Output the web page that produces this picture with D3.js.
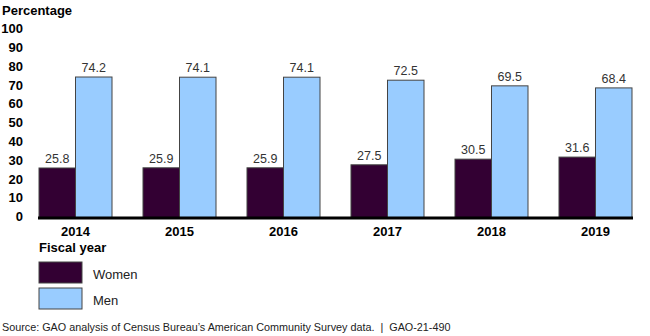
<!DOCTYPE html>
<html>
<head>
<meta charset="utf-8">
<script src="https://cdn.jsdelivr.net/npm/d3@7"></script>
<style>
  body { margin: 0; background: #fff; }
  svg { font-family: Arial, "Liberation Sans", sans-serif; display: block; }
</style>
</head>
<body>
<div id="chart"></div>
<script>
const years = ['2014', '2015', '2016', '2017', '2018', '2019'];
const women = [25.8, 25.9, 25.9, 27.5, 30.5, 31.6];
const men = [74.2, 74.1, 74.1, 72.5, 69.5, 68.4];
const series = ['Women', 'Men'];
const yTicks = [0, 10, 20, 30, 40, 50, 60, 70, 80, 90, 100];

const width = 650, height = 336;
const colors = { Women: '#330033', Men: '#99ccff' };

const svg = d3.select('#chart').append('svg')
    .attr('width', width)
    .attr('height', height);

const x = d3.scaleBand()
    .domain(years)
    .range([39, 632])
    .paddingInner(0.298)
    .paddingOuter(0);

const xSub = d3.scaleBand()
    .domain(series)
    .range([0, x.bandwidth()]);

const y = d3.scaleLinear()
    .domain([0, 100])
    .range([216.5, 28.5]);

// y axis labels (no line)
svg.append('g')
    .selectAll('text')
    .data(yTicks)
    .enter().append('text')
    .attr('x', 23)
    .attr('y', d => y(d))
    .attr('dy', '0.36em')
    .attr('text-anchor', 'end')
    .style('font-size', '13px')
    .style('font-weight', 'bold')
    .text(d => d);

svg.append('text')
    .attr('x', 2)
    .attr('y', 15)
    .style('font-size', '13px')
    .style('font-weight', 'bold')
    .text('Percentage');

const rows = years.map((yr, i) => ({ year: yr, Women: women[i], Men: men[i] }));

const groups = svg.selectAll('.grp')
    .data(rows)
    .enter().append('g')
    .attr('class', 'grp')
    .attr('transform', d => `translate(${x(d.year)},0)`);

groups.selectAll('rect')
    .data(d => series.map(s => ({ key: s, value: d[s] })))
    .enter().append('rect')
    .attr('x', d => xSub(d.key))
    .attr('y', d => y(d.value))
    .attr('width', xSub.bandwidth())
    .attr('height', d => y(0) - y(d.value) + 1)
    .attr('fill', d => colors[d.key])
    .attr('stroke', '#444')
    .attr('stroke-width', 1);

groups.selectAll('.val')
    .data(d => series.map(s => ({ key: s, value: d[s] })))
    .enter().append('text')
    .attr('class', 'val')
    .attr('x', d => xSub(d.key) + xSub.bandwidth() / 2)
    .attr('y', d => y(d.value) - 5)
    .attr('text-anchor', 'middle')
    .style('font-size', '12.5px')
    .style('fill', '#333')
    .text(d => d.value.toFixed(1));

// baseline
svg.append('line')
    .attr('x1', 38).attr('x2', 633)
    .attr('y1', y(0) + 1.5).attr('y2', y(0) + 1.5)
    .attr('stroke', '#000')
    .attr('stroke-width', 3);

// x labels
svg.append('g')
    .selectAll('text')
    .data(years)
    .enter().append('text')
    .attr('x', d => x(d) + x.bandwidth() / 2)
    .attr('y', 236)
    .attr('text-anchor', 'middle')
    .style('font-size', '13px')
    .style('font-weight', 'bold')
    .text(d => d);

svg.append('text')
    .attr('x', 39)
    .attr('y', 252)
    .style('font-size', '13px')
    .style('font-weight', 'bold')
    .text('Fiscal year');

// legend
const legend = svg.selectAll('.legend')
    .data(series)
    .enter().append('g')
    .attr('class', 'legend')
    .attr('transform', (d, i) => `translate(39,${262 + i * 26})`);

legend.append('rect')
    .attr('width', 43)
    .attr('height', 21)
    .attr('fill', d => colors[d])
    .attr('stroke', '#444');

legend.append('text')
    .attr('x', 54)
    .attr('y', 16.5)
    .style('font-size', '13px')
    .style('fill', '#222')
    .text(d => d);

svg.append('text')
    .attr('x', 2)
    .attr('y', 331)
    .style('font-size', '10.8px')
    .style('fill', '#222')
    .style('white-space', 'pre')
    .text('Source: GAO analysis of Census Bureau\u2019s American Community Survey data.  |  GAO-21-490');
</script>
</body>
</html>
